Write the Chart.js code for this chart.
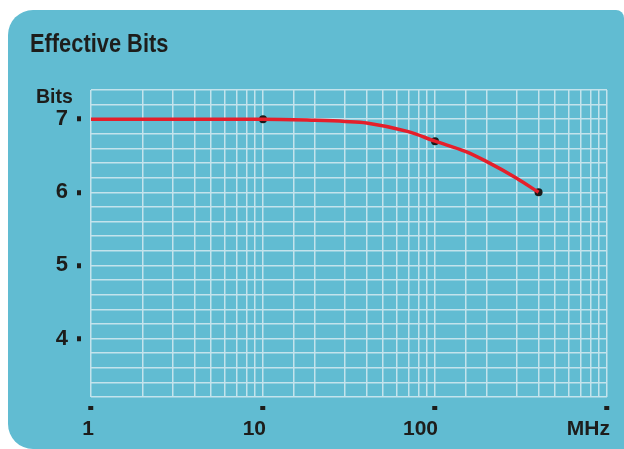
<!DOCTYPE html>
<html>
<head>
<meta charset="utf-8">
<script src="https://cdn.jsdelivr.net/npm/chart.js@4/dist/chart.umd.min.js"></script>
<style>
  html, body { margin: 0; padding: 0; background: #fff; }
  #wrap { width: 624px; height: 449px; position: relative; }
</style>
</head>
<body>
<div id="wrap"><canvas id="chart" width="624" height="449"></canvas></div>
<script>
const FONT = '"Liberation Sans", Arial, sans-serif';

// curve (MHz, bits)
const freqs = [1, 10, 20, 30, 40, 70, 100, 150, 200, 300, 400];
const bits = [7, 7, 6.985, 6.97, 6.95, 6.83, 6.7, 6.56, 6.42, 6.19, 6.0];

// the black dots on the curve
const markerFreqs = [10, 100, 400];
const markerBits = [7, 6.7, 6.0];

const yTickLabels = [4, 5, 6, 7];
const xTickLabels = { 1: '1', 10: '10', 100: '100', 1000: 'MHz' };

const isInt = v => Math.abs(v - Math.round(v)) < 1e-6;

const panel = {
  id: 'panel',
  beforeDraw(chart) {
    const c = chart.ctx;
    c.save();
    c.fillStyle = '#61bcd2';
    c.beginPath();
    c.roundRect(8, 10, 616, 439, [25, 8, 0, 25]);
    c.fill();
    c.fillStyle = '#1d1d1b';
    c.textBaseline = 'alphabetic';
    // condensed look for the headings
    c.save();
    c.translate(30, 52);
    c.scale(0.84, 1);
    c.font = 'bold 26px ' + FONT;
    c.fillText('Effective Bits', 0, 0);
    c.restore();
    c.save();
    c.translate(36, 103);
    c.scale(0.93, 1);
    c.font = 'bold 21px ' + FONT;
    c.fillText('Bits', 0, 0);
    c.restore();
    c.restore();
  }
};

new Chart(document.getElementById('chart'), {
  type: 'scatter',
  data: {
    datasets: [{
      data: freqs.map((f, i) => ({ x: f, y: bits[i] })),
      showLine: true,
      borderColor: '#e41f2b',
      borderWidth: 3.5,
      pointRadius: 0,
      cubicInterpolationMode: 'monotone'
    }, {
      data: markerFreqs.map((f, i) => ({ x: f, y: markerBits[i] })),
      pointRadius: 4,
      pointBackgroundColor: '#1a1a1a',
      pointBorderWidth: 0
    }]
  },
  options: {
    responsive: false,
    animation: false,
    layout: { padding: { top: 90, right: 17, left: 0, bottom: 0 } },
    plugins: { legend: { display: false }, tooltip: { enabled: false } },
    scales: {
      x: {
        type: 'logarithmic',
        min: 1,
        max: 1000,
        border: { display: false },
        grid: {
          color: '#c3e3ec',
          lineWidth: 1.5,
          tickLength: 13,
          tickWidth: 5,
          tickBorderDash: [4, 9],
          tickBorderDashOffset: 4,
          tickColor: ctx => (ctx.tick && xTickLabels[ctx.tick.value]) ? '#1d1d1b' : 'rgba(0,0,0,0)'
        },
        ticks: {
          autoSkip: false,
          maxRotation: 0,
          align: 'end',
          labelOffset: 3,
          padding: 7,
          color: '#1d1d1b',
          font: { family: FONT, size: 21, weight: 'bold' },
          callback: v => xTickLabels[v] || ''
        },
        afterFit: s => { s.height = 52; s.paddingLeft = 0; s.paddingRight = 0; }
      },
      y: {
        min: 3.2,
        max: 7.4,
        border: { display: false },
        grid: {
          color: '#c3e3ec',
          lineWidth: 1.5,
          tickLength: 14,
          tickWidth: 5,
          tickBorderDash: [4, 10],
          tickColor: ctx => (ctx.tick && isInt(ctx.tick.value) && yTickLabels.includes(Math.round(ctx.tick.value))) ? '#1d1d1b' : 'rgba(0,0,0,0)'
        },
        ticks: {
          stepSize: 0.2,
          autoSkip: false,
          padding: 9,
          color: '#1d1d1b',
          font: { family: FONT, size: 22, weight: 'bold' },
          callback: v => (isInt(v) && yTickLabels.includes(Math.round(v))) ? String(Math.round(v)) : ''
        },
        afterFit: s => { s.width = 91; s.paddingTop = 0; s.paddingBottom = 0; }
      }
    }
  },
  plugins: [panel]
});
</script>
</body>
</html>
